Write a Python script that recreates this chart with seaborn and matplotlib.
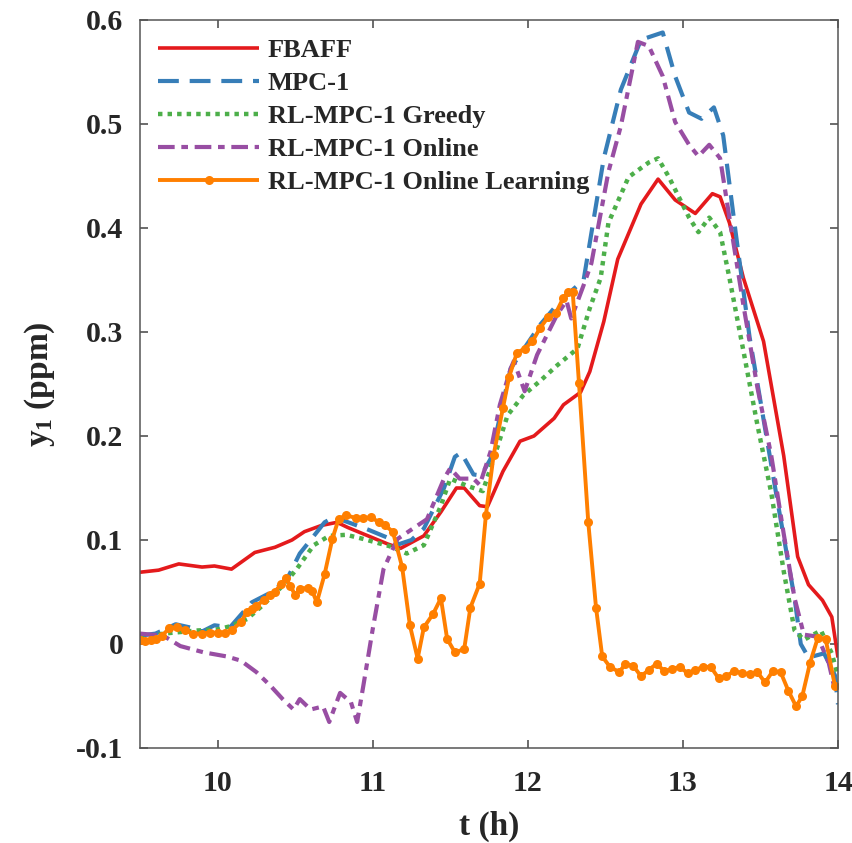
import numpy as np
import pandas as pd
import matplotlib
matplotlib.use("Agg")
import matplotlib.pyplot as plt
import seaborn as sns

# ---------------- data ----------------
fbaff_t = [9.50, 9.62, 9.75, 9.90, 9.98, 10.09, 10.24, 10.37, 10.48, 10.56, 10.67, 10.77,
           10.84, 10.97, 11.10, 11.18, 11.33, 11.44, 11.54, 11.59, 11.69, 11.74, 11.84,
           11.95, 12.04, 12.17, 12.23, 12.34, 12.40, 12.49, 12.58, 12.73, 12.84, 12.95,
           13.08, 13.19, 13.24, 13.30, 13.39, 13.52, 13.65, 13.74, 13.81, 13.90, 13.96, 14.00]
fbaff_y = [0.069, 0.071, 0.077, 0.074, 0.075, 0.072, 0.088, 0.093, 0.100, 0.108, 0.114, 0.117,
           0.112, 0.104, 0.096, 0.092, 0.104, 0.127, 0.150, 0.150, 0.133, 0.132, 0.166,
           0.195, 0.200, 0.217, 0.230, 0.242, 0.262, 0.310, 0.370, 0.423, 0.447, 0.427,
           0.414, 0.433, 0.430, 0.405, 0.352, 0.291, 0.181, 0.084, 0.057, 0.042, 0.026, -0.013]

mpc_t = [9.50, 9.60, 9.73, 9.82, 9.90, 9.98, 10.08, 10.22, 10.35, 10.45, 10.53, 10.60, 10.69,
         10.75, 10.88, 10.97, 11.10, 11.17, 11.25, 11.33, 11.46, 11.53, 11.57, 11.65, 11.70,
         11.76, 11.89, 12.08, 12.21, 12.36, 12.49, 12.60, 12.73, 12.87, 12.95, 13.04, 13.12,
         13.20, 13.26, 13.34, 13.43, 13.52, 13.61, 13.72, 13.76, 13.81, 13.91, 13.98, 14.00]
mpc_y = [0.008, 0.010, 0.019, 0.016, 0.012, 0.018, 0.016, 0.040, 0.050, 0.063, 0.087, 0.100, 0.117,
         0.122, 0.115, 0.110, 0.102, 0.096, 0.100, 0.111, 0.150, 0.180, 0.184, 0.163, 0.162,
         0.178, 0.265, 0.307, 0.330, 0.350, 0.467, 0.533, 0.581, 0.588, 0.546, 0.511, 0.505,
         0.516, 0.489, 0.396, 0.295, 0.216, 0.137, 0.044, 0.000, -0.013, -0.009, -0.030, -0.058]

greedy_t = [9.50, 9.65, 9.87, 10.00, 10.08, 10.19, 10.29, 10.42, 10.51, 10.62, 10.72, 10.83,
            10.94, 11.11, 11.22, 11.33, 11.44, 11.50, 11.61, 11.71, 11.78, 11.87, 11.97, 12.08,
            12.19, 12.32, 12.40, 12.47, 12.52, 12.65, 12.78, 12.84, 12.91, 13.04, 13.10, 13.17,
            13.24, 13.30, 13.39, 13.48, 13.57, 13.65, 13.72, 13.78, 13.89, 13.96, 14.00]
greedy_y = [0.005, 0.010, 0.013, 0.014, 0.017, 0.024, 0.037, 0.056, 0.072, 0.095, 0.104, 0.105,
            0.101, 0.094, 0.087, 0.095, 0.133, 0.159, 0.152, 0.147, 0.178, 0.220, 0.239, 0.253,
            0.268, 0.284, 0.323, 0.352, 0.405, 0.449, 0.463, 0.467, 0.449, 0.410, 0.396, 0.410,
            0.396, 0.352, 0.282, 0.211, 0.145, 0.070, 0.013, 0.004, 0.013, -0.009, -0.031]

online_t = [9.50, 9.65, 9.76, 9.91, 10.06, 10.15, 10.25, 10.34, 10.42, 10.49, 10.53, 10.60,
            10.68, 10.72, 10.79, 10.86, 10.90, 10.94, 11.00, 11.07, 11.16, 11.26, 11.35, 11.46,
            11.50, 11.56, 11.65, 11.69, 11.76, 11.82, 11.89, 11.91, 11.98, 12.06, 12.19, 12.25,
            12.28, 12.36, 12.41, 12.52, 12.60, 12.71, 12.78, 12.87, 12.95, 13.04, 13.10, 13.17,
            13.24, 13.30, 13.39, 13.48, 13.57, 13.65, 13.72, 13.78, 13.87, 13.94, 13.98]
online_y = [0.010, 0.008, -0.002, -0.008, -0.012, -0.016, -0.027, -0.040, -0.053, -0.063, -0.053, -0.063,
            -0.060, -0.075, -0.047, -0.056, -0.075, -0.040, 0.014, 0.072, 0.101, 0.111, 0.120, 0.159,
            0.169, 0.159, 0.159, 0.153, 0.185, 0.230, 0.265, 0.272, 0.243, 0.278, 0.317, 0.330,
            0.313, 0.345, 0.366, 0.454, 0.498, 0.579, 0.575, 0.546, 0.502, 0.480, 0.469, 0.480,
            0.467, 0.410, 0.326, 0.247, 0.181, 0.106, 0.044, 0.009, 0.007, -0.018, -0.044]

learn_t = [9.50, 9.53, 9.57, 9.60, 9.64, 9.69, 9.74, 9.79, 9.84, 9.90, 9.95, 10.00, 10.05, 10.09,
           10.15, 10.19, 10.22, 10.25, 10.30, 10.34, 10.37, 10.41, 10.44, 10.47, 10.50, 10.53,
           10.58, 10.61, 10.64, 10.69, 10.74, 10.78, 10.83, 10.89, 10.94, 10.99, 11.04, 11.08,
           11.13, 11.19, 11.24, 11.29, 11.33, 11.39, 11.44, 11.48, 11.53, 11.59, 11.63, 11.69,
           11.73, 11.78, 11.84, 11.88, 11.93, 11.98, 12.03, 12.08, 12.13, 12.18, 12.23, 12.26,
           12.29, 12.33, 12.39, 12.44, 12.48, 12.53, 12.59, 12.63, 12.68, 12.73, 12.78, 12.83,
           12.88, 12.93, 12.98, 13.03, 13.08, 13.13, 13.18, 13.23, 13.28, 13.33, 13.38, 13.43,
           13.48, 13.53, 13.58, 13.63, 13.68, 13.73, 13.77, 13.82, 13.87, 13.92, 13.98]
learn_y = [0.004, 0.003, 0.004, 0.005, 0.008, 0.015, 0.016, 0.013, 0.010, 0.010, 0.011, 0.011, 0.011, 0.013,
           0.021, 0.031, 0.034, 0.037, 0.042, 0.047, 0.050, 0.058, 0.063, 0.056, 0.047, 0.053,
           0.054, 0.051, 0.040, 0.067, 0.101, 0.120, 0.124, 0.121, 0.121, 0.122, 0.117, 0.114,
           0.108, 0.074, 0.018, -0.014, 0.016, 0.029, 0.044, 0.005, -0.008, -0.005, 0.035, 0.058,
           0.124, 0.182, 0.227, 0.257, 0.280, 0.284, 0.291, 0.304, 0.314, 0.318, 0.333, 0.338,
           0.338, 0.251, 0.117, 0.035, -0.012, -0.022, -0.027, -0.019, -0.021, -0.031, -0.025, -0.019,
           -0.026, -0.024, -0.022, -0.028, -0.025, -0.022, -0.022, -0.033, -0.031, -0.026, -0.028, -0.029,
           -0.027, -0.037, -0.026, -0.027, -0.045, -0.060, -0.050, -0.018, 0.006, 0.005, -0.040]

series_names = ["FBAFF", "MPC-1", "RL-MPC-1 Greedy", "RL-MPC-1 Online", "RL-MPC-1 Online Learning"]
x_ticks = [10, 11, 12, 13, 14]
y_ticks = [-0.1, 0, 0.1, 0.2, 0.3, 0.4, 0.5, 0.6]
y_tick_labels = ["-0.1", "0", "0.1", "0.2", "0.3", "0.4", "0.5", "0.6"]
x_label = "t (h)"
y_label = r"y$_{\mathbf{1}}$ (ppm)"

# ---------------- style ----------------
sns.set_style("ticks")
plt.rcParams["font.family"] = ["Liberation Serif", "DejaVu Serif"]
plt.rcParams["font.weight"] = "bold"
plt.rcParams["mathtext.fontset"] = "custom"
plt.rcParams["mathtext.rm"] = "Liberation Serif:bold"
plt.rcParams["mathtext.bf"] = "Liberation Serif:bold"
plt.rcParams["mathtext.it"] = "Liberation Serif:bold"

colors = ["#E41A1C", "#377EB8", "#4DAF4A", "#984EA3", "#FF7F00"]

fig = plt.figure(figsize=(8.52, 8.43), dpi=100)
ax = fig.add_axes([140 / 852, 1 - 748 / 843, (838 - 140) / 852, (748 - 20) / 843])

series = [(fbaff_t, fbaff_y), (mpc_t, mpc_y), (greedy_t, greedy_y), (online_t, online_y), (learn_t, learn_y)]
styles = [
    dict(linewidth=2.6, linestyle="-"),
    dict(linewidth=3.0, linestyle=(0, (5.0, 2.6))),
    dict(linewidth=3.2, linestyle=(0, (1.0, 1.15))),
    dict(linewidth=3.0, linestyle=(0, (4.0, 1.6, 1.6, 1.6))),
    dict(linewidth=2.8, linestyle="-", marker="o", markersize=6.5, markeredgewidth=0),
]
for (t, y), name, c, st in zip(series, series_names, colors, styles):
    df = pd.DataFrame({"t": t, "y": y})
    sns.lineplot(data=df, x="t", y="y", ax=ax, color=c, label=name, errorbar=None,
                 sort=False, **st)

for ln in ax.lines:
    ln.set_dash_capstyle("butt")
    ln.set_solid_capstyle("butt")

ax.set_xlim(9.5, 14)
ax.set_ylim(-0.1, 0.6)
ax.set_xticks(x_ticks)
ax.set_xticklabels([str(v) for v in x_ticks])
ax.set_yticks(y_ticks)
ax.set_yticklabels(y_tick_labels)
ax.tick_params(direction="in", length=6, width=1.1, top=True, right=True,
               labelsize=21.5, color="#444444")
ax.tick_params(axis="x", pad=16)
ax.tick_params(axis="y", pad=12)
for lab in ax.get_xticklabels() + ax.get_yticklabels():
    lab.set_fontweight("bold")
for sp in ax.spines.values():
    sp.set_color("#555555")
    sp.set_linewidth(1.1)

ax.set_xlabel(x_label, fontsize=24, fontweight="bold", labelpad=10)
ax.set_ylabel(y_label, fontsize=24, fontweight="bold", labelpad=14)

leg = ax.legend(loc="upper left", frameon=False, handlelength=3.8,
                handletextpad=0.35, labelspacing=0.36, borderaxespad=0.3,
                prop={"weight": "bold", "size": 19})

fig.savefig("out.png", dpi=100)
